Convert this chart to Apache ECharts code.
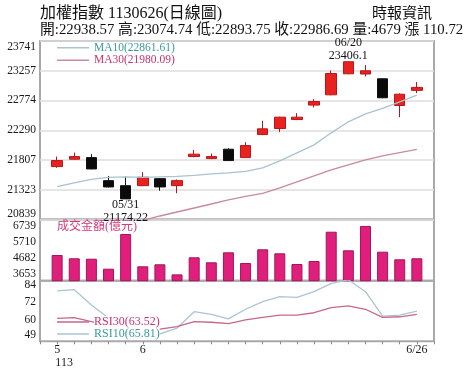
<!DOCTYPE html>
<html><head><meta charset="utf-8">
<script src="https://cdn.jsdelivr.net/npm/echarts@6/dist/echarts.min.js"></script>
<style>html,body{margin:0;padding:0;background:#fff}#c{width:474px;height:380px}</style>
</head><body><div id="c"></div>
<script>
// ---- data ----
const dates = ['5/27','5/28','5/29','5/30','5/31','6/3','6/4','6/5','6/6','6/7','6/11','6/12','6/13','6/14','6/17','6/18','6/19','6/20','6/21','6/24','6/25','6/26'];
const opens  = [21699,21819,21845,21471,21389,21389,21503,21389,21862,21829,21982,21845,22220,22318,22464,22699,22866,23208,23204,23127,22692,22938.57];
const closes = [21797,21862,21661,21368,21174.22,21526,21368,21471,21901,21862,21797,22041,22313,22503,22503,22757,23213,23404,23257,22818,22875.97,22986.69];
const lows   = [21680,21810,21655,21360,21174.22,21380,21308,21266,21850,21820,21790,21840,22210,22259,22455,22660,22860,23200,23164,22810,22503,22893.75];
const highs  = [21862,21927,21901,21547,21536,21608,21515,21490,21971,21911,21995,22096,22443,22510,22568,22796,23262,23406.1,23350,23135,22890,23074.74];
const ma10 = [21373,21433,21490,21523,21531,21523,21531,21539,21555,21580,21596,21621,21678,21792,21922,22052,22248,22427,22557,22647,22752,22861.61];
const ma30 = [20500,20560,20630,20690,20758,20823,20896,20961,21026,21091,21157,21214,21262,21352,21450,21547,21645,21727,21808,21873,21927,21980.09];
const volumes = [4888,4677,4652,4014,6226,4167,4295,3653,4741,4422,5060,4378,5251,4996,4314,4505,6372,5187,6739,5098,4614,4679];
const rsi10 = [79.8,80.7,70.1,61.0,54.1,50.7,50.0,54.1,65.4,63.6,60.4,67.1,72.4,75.8,75.4,79.3,85.1,87.5,79.3,62.4,63.1,65.81];
const rsi30 = [60.8,61.3,58.5,56.2,54.1,53.4,53.4,55.0,58.5,58.1,57.1,59.7,61.5,63.1,63.1,64.7,68.2,69.4,67.1,61.5,61.9,63.52];
const priceTicks = [20839,21323,21807,22290,22774,23257,23741];
const volTicks = [3653,4682,5710,6739];
const rsiTicks = [49,60,72,84];
const xMarkDates = ['5/27','6/3','6/26'];
const xMarkTexts = ['5','6','6/26'];
const yearLabel = '113';

// ---- build ----
const SERIF = '"Liberation Serif","Noto Sans CJK TC",serif';
const cats = [' ', ...dates, '  '];
const last = a => a[a.length - 1];
const f2 = v => v.toFixed(2);
const candleData = dates.map((d, i) => [d, opens[i], closes[i], lows[i], highs[i]]);
const pair = arr => dates.map((d, i) => [d, arr[i]]);
const iLow = lows.indexOf(Math.min(...lows));
const iHigh = highs.indexOf(Math.max(...highs));
const mmdd = d => d.split('/').map(s => s.padStart(2, '0')).join('/');

const L = 40, W = 394;
const grids = [
  {left: L, width: W, top: 41, height: 178.5},
  {left: L, width: W, top: 219.5, height: 61.2},
  {left: L, width: W, top: 280.7, height: 60.6}
].map(g => Object.assign(g, {show: true, borderColor: '#a9a9a9', borderWidth: 2, backgroundColor: 'transparent'}));

const xAxes = [0, 1, 2].map(gi => ({
  type: 'category', gridIndex: gi, data: cats, boundaryGap: false,
  axisLine: {show: false},
  axisTick: {show: gi === 2, interval: 0, length: 3, lineStyle: {color: '#888'}},
  axisLabel: gi === 2 ? {
    show: true, interval: 0, margin: 2, fontSize: 12, lineHeight: 13, color: '#1a1a1a', fontFamily: SERIF,
    formatter: v => { const k = xMarkDates.indexOf(v); if (k < 0) return ''; return k === 0 ? xMarkTexts[0] + '\n{y|' + yearLabel + '}' : xMarkTexts[k]; },
    rich: {y: {fontSize: 12, lineHeight: 13, color: '#1a1a1a', fontFamily: SERIF, padding: [0, 0, 0, 14]}}
  } : {show: false},
  splitLine: {show: false}
}));

const yLabel = {fontSize: 11.5, color: '#1a1a1a', fontFamily: SERIF, margin: 4, formatter: v => String(Math.round(v))};
const yAxes = [
  {type: 'value', gridIndex: 0, min: 20839, max: 23741,
   axisLabel: Object.assign({customValues: priceTicks, verticalAlignMinLabel: 'bottom', verticalAlignMaxLabel: 'top'}, yLabel),
   axisTick: {show: false, customValues: priceTicks}, axisLine: {show: false},
   splitLine: {show: true, lineStyle: {color: '#dedede', width: 1.5}}},
  {type: 'value', gridIndex: 1, min: 3250, max: 7150,
   axisLabel: Object.assign({customValues: volTicks}, yLabel),
   axisTick: {show: false, customValues: volTicks}, axisLine: {show: false}, splitLine: {show: false}},
  {type: 'value', gridIndex: 2, min: 44.9, max: 86.9,
   axisLabel: Object.assign({customValues: rsiTicks}, yLabel),
   axisTick: {show: false, customValues: rsiTicks}, axisLine: {show: false}, splitLine: {show: false}}
];

const C_MA10 = '#a9c3cf', C_MA30 = '#c98a9e', T_TEAL = '#3a9a9c', T_PINK = '#c8336e';
const C_RSI10 = '#aac5d2', C_RSI30 = '#c7668e';

const option = {
  animation: false,
  backgroundColor: '#fff',
  grid: grids, xAxis: xAxes, yAxis: yAxes,
  legend: [
    {orient: 'vertical', left: 57, top: 42, itemWidth: 32, itemHeight: 1.5, itemGap: 1, icon: 'rect', padding: 0, selectedMode: false,
     textStyle: {fontSize: 11.5, fontFamily: SERIF, padding: 0},
     data: [{name: 'MA10', textStyle: {color: T_TEAL}}, {name: 'MA30', textStyle: {color: T_PINK}}],
     formatter: n => n + '(' + f2(last(n === 'MA10' ? ma10 : ma30)) + ')'},
    {orient: 'vertical', left: 57, top: 316, itemWidth: 32, itemHeight: 1.5, itemGap: 0, icon: 'rect', padding: 0, selectedMode: false,
     textStyle: {fontSize: 12, fontFamily: SERIF, backgroundColor: '#fff', padding: 0},
     data: [{name: 'RSI30', textStyle: {color: T_PINK}}, {name: 'RSI10', textStyle: {color: T_TEAL}}],
     formatter: n => n + '(' + f2(last(n === 'RSI10' ? rsi10 : rsi30)) + ')'}
  ],
  graphic: [
    {type: 'text', left: 40, top: 6, style: {text: '加權指數 1130626(日線圖)', font: '16px ' + SERIF, fill: '#111'}},
    {type: 'text', right: 42, top: 7, style: {text: '時報資訊', font: '15px ' + SERIF, fill: '#111'}},
    {type: 'text', left: 40, top: 23, style: {text: '開:' + f2(last(opens)) + ' 高:' + f2(last(highs)) + ' 低:' + f2(last(lows)) + ' 收:' + f2(last(closes)) + ' 量:' + last(volumes) + ' 漲 ' + f2(last(closes) - closes[closes.length - 2]), font: '14.8px ' + SERIF, fill: '#111'}},
    {type: 'text', left: 57, top: 221, z: 10, style: {text: '成交金額(億元)', font: '12px ' + SERIF, fill: '#d23c7c'}}
  ],
  series: [
    {type: 'candlestick', name: 'K', xAxisIndex: 0, yAxisIndex: 0, data: candleData, encode: {x: 0, y: [1, 2, 3, 4]},
     barWidth: 11,
     itemStyle: {color: '#e8231f', color0: '#0a0a0a', borderColor: '#b8161c', borderColor0: '#111', borderWidth: 1},
     markPoint: {symbol: 'circle', symbolSize: 0, silent: true,
       label: {show: true, fontSize: 12, lineHeight: 12.5, color: '#111', fontFamily: SERIF},
       data: [
         {coord: [dates[iLow], lows[iLow]], label: {position: 'bottom', distance: 0, formatter: mmdd(dates[iLow]) + '\n' + lows[iLow]}},
         {coord: [dates[iHigh], highs[iHigh]], label: {position: 'top', distance: 0, formatter: mmdd(dates[iHigh]) + '\n' + highs[iHigh]}}
       ]}},
    {type: 'line', name: 'MA10', xAxisIndex: 0, yAxisIndex: 0, data: pair(ma10), showSymbol: false, color: C_MA10, lineStyle: {width: 1.3, color: C_MA10}},
    {type: 'line', name: 'MA30', xAxisIndex: 0, yAxisIndex: 0, data: pair(ma30), showSymbol: false, color: C_MA30, lineStyle: {width: 1.3, color: C_MA30}},
    {type: 'bar', name: 'VOL', xAxisIndex: 1, yAxisIndex: 1, data: pair(volumes), barWidth: 11,
     itemStyle: {color: '#e01f7d', borderColor: '#a3155a', borderWidth: 1}},
    {type: 'line', name: 'RSI10', xAxisIndex: 2, yAxisIndex: 2, data: pair(rsi10), showSymbol: false, color: C_RSI10, lineStyle: {width: 1.3, color: C_RSI10}},
    {type: 'line', name: 'RSI30', xAxisIndex: 2, yAxisIndex: 2, data: pair(rsi30), showSymbol: false, color: C_RSI30, lineStyle: {width: 1.3, color: C_RSI30}}
  ]
};
const chart = echarts.init(document.getElementById('c'), null, {renderer: 'canvas'});
chart.setOption(option);
</script></body></html>
